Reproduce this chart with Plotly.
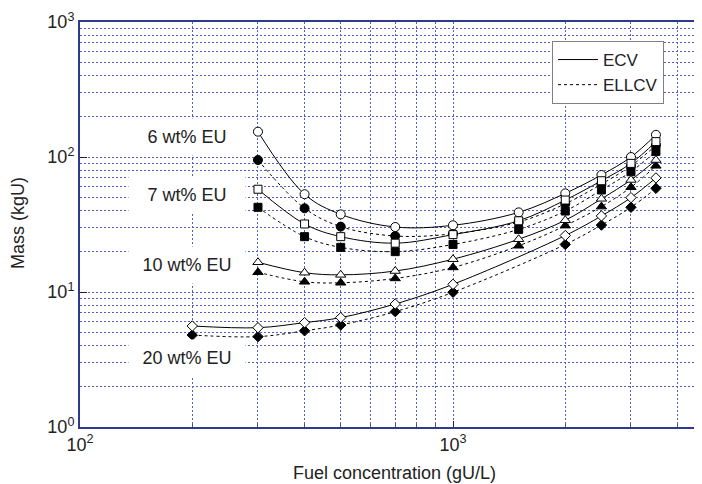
import plotly.graph_objects as go

# ---- data ----
x_conc = [300, 400, 500, 700, 1000, 1500, 2000, 2500, 3000, 3500]
x_conc_20 = [200, 300, 400, 500, 700, 1000, 2000, 2500, 3000, 3500]

eu6_ecv = [154, 53, 37.6, 30.3, 31.2, 38.9, 53.8, 73.6, 100, 146]
eu6_ellcv = [95, 41.7, 30.5, 26, 27, 33, 45, 63, 86, 122]
eu7_ecv = [57.7, 31.9, 25.7, 23, 26.6, 33.7, 48, 66.7, 89.7, 130]
eu7_ellcv = [42.4, 25.7, 21.4, 19.9, 22.5, 29.1, 39.8, 57, 77.8, 110]
eu10_ecv = [16.6, 13.9, 13.4, 14.3, 17.5, 24.6, 34, 49, 67.6, 95]
eu10_ellcv = [14, 11.9, 11.7, 12.6, 15.2, 22, 31, 42.9, 59.7, 86]
eu20_ecv = [5.6, 5.44, 5.93, 6.46, 8.15, 11.4, 26.2, 36.6, 50, 70]
eu20_ellcv = [4.8, 4.67, 5.16, 5.7, 7.15, 9.95, 22.5, 31.3, 42.4, 58.6]

series_labels = ["6 wt% EU", "7 wt% EU", "10 wt% EU", "20 wt% EU"]
label_y = [137, 195, 265, 358]  # label centers (page px)
legend_names = ["ECV", "ELLCV"]

x_tickvals = [100, 1000]
x_ticktext = ["10<sup>2</sup>", "10<sup>3</sup>"]
y_tickvals = [1, 10, 100, 1000]
y_ticktext = ["10<sup>0</sup>", "10<sup>1</sup>", "10<sup>2</sup>", "10<sup>3</sup>"]
x_minor = [m * d for d in (100, 1000) for m in range(2, 10)]
y_minor = [m * d for d in (1, 10, 100) for m in range(2, 10)]

FONT = "Liberation Sans, Arial, sans-serif"
GRID = "#5060bc"
AXIS = "#2e3a8c"
TXT = "#222"

# page body has an 8px default margin -> figure is shifted by 8px
OFF = 8
PAGE_W, PAGE_H = 702, 484
PLOT_TOP, PLOT_BOTTOM, PLOT_LEFT, PLOT_RIGHT = 22, 427, 80, 694  # page px
X_LOG_MAX = 2 + (PLOT_RIGHT - PLOT_LEFT) / 373.0
FIG_W = PAGE_W - 2 * OFF
FIG_H = PAGE_H - OFF

fig = go.Figure()

groups = [
    (x_conc, eu6_ecv, eu6_ellcv, "circle", 9),
    (x_conc, eu7_ecv, eu7_ellcv, "square", 8),
    (x_conc, eu10_ecv, eu10_ellcv, "triangle-up", 9),
    (x_conc_20, eu20_ecv, eu20_ellcv, "diamond", 8),
]

# ELLCV (dotted, filled markers) first, ECV (solid, open markers) on top
for xs, ecv, ellcv, sym, size in groups:
    fig.add_trace(go.Scatter(
        x=xs, y=ellcv, mode="lines+markers", showlegend=False,
        line=dict(color="black", width=1, dash="dot", shape="spline", smoothing=1),
        marker=dict(symbol=sym, size=size, color="black", line=dict(color="black", width=1)),
    ))
for xs, ecv, ellcv, sym, size in groups:
    fig.add_trace(go.Scatter(
        x=xs, y=ecv, mode="lines+markers", showlegend=False,
        line=dict(color="black", width=1, shape="spline", smoothing=1),
        marker=dict(symbol=sym, size=size, color="white", line=dict(color="black", width=1)),
    ))

# legend entries
fig.add_trace(go.Scatter(x=[None], y=[None], mode="lines", name=legend_names[0],
                         line=dict(color="black", width=1)))
fig.add_trace(go.Scatter(x=[None], y=[None], mode="lines", name=legend_names[1],
                         line=dict(color="black", width=1, dash="dot")))


def py(px):
    return (PLOT_BOTTOM - px) / (PLOT_BOTTOM - PLOT_TOP)


def pxx(px):
    return (px - PLOT_LEFT) / (PLOT_RIGHT - PLOT_LEFT)


annotations = []
for lab, yc in zip(series_labels, label_y):
    annotations.append(dict(
        text=lab, xref="paper", yref="paper", x=pxx(187), y=py(yc),
        xanchor="center", yanchor="middle", showarrow=False,
        font=dict(family=FONT, size=18, color=TXT),
        bgcolor="white", width=112, height=32, borderpad=2,
    ))
annotations.append(dict(
    text="Fuel concentration (gU/L)", xref="paper", yref="paper",
    x=pxx(394), y=py(473), xanchor="center", yanchor="middle", showarrow=False,
    font=dict(family=FONT, size=18, color=TXT),
))
annotations.append(dict(
    text="Mass (kgU)", xref="paper", yref="paper", textangle=-90,
    x=pxx(18), y=py(223), xanchor="center", yanchor="middle", showarrow=False,
    font=dict(family=FONT, size=18, color=TXT),
))

fig.update_layout(
    width=FIG_W, height=FIG_H,
    margin=dict(l=PLOT_LEFT - OFF, r=FIG_W - (PLOT_RIGHT - OFF), t=PLOT_TOP - OFF,
                b=FIG_H - (PLOT_BOTTOM - OFF), pad=0, autoexpand=False),
    paper_bgcolor="white", plot_bgcolor="white",
    font=dict(family=FONT, size=18, color=TXT),
    annotations=annotations,
    legend=dict(
        x=pxx(552), y=py(41), xanchor="left", yanchor="top",
        bgcolor="white", bordercolor="#808080", borderwidth=1,
        font=dict(family=FONT, size=17, color=TXT),
        tracegroupgap=0, itemwidth=40,
    ),
    xaxis=dict(
        type="log", range=[2, X_LOG_MAX], autorange=False, automargin=False,
        tickmode="array", tickvals=x_tickvals, ticktext=x_ticktext,
        ticks="inside", ticklen=6, tickcolor=TXT,
        showline=True, linecolor=AXIS, linewidth=2, mirror=True,
        showgrid=True, gridcolor=GRID, gridwidth=1, griddash="2px,2px",
        zeroline=False,
        minor=dict(tickmode="array", tickvals=x_minor, showgrid=True,
                   gridcolor=GRID, gridwidth=1, griddash="2px,2px",
                   ticks="inside", ticklen=3, tickcolor="#555"),
        tickfont=dict(family=FONT, size=18, color=TXT),
    ),
    yaxis=dict(
        type="log", range=[0, 3], autorange=False, automargin=False,
        tickmode="array", tickvals=y_tickvals, ticktext=y_ticktext,
        ticks="inside", ticklen=7, tickcolor=TXT,
        showline=True, linecolor=AXIS, linewidth=2, mirror=False,
        showgrid=True, gridcolor=GRID, gridwidth=1, griddash="2px,2px",
        zeroline=False,
        minor=dict(tickmode="array", tickvals=y_minor, showgrid=True,
                   gridcolor=GRID, gridwidth=1, griddash="2px,2px",
                   ticks="", ticklen=3),
        tickfont=dict(family=FONT, size=18, color=TXT),
    ),
)

fig.write_html("out.html")
